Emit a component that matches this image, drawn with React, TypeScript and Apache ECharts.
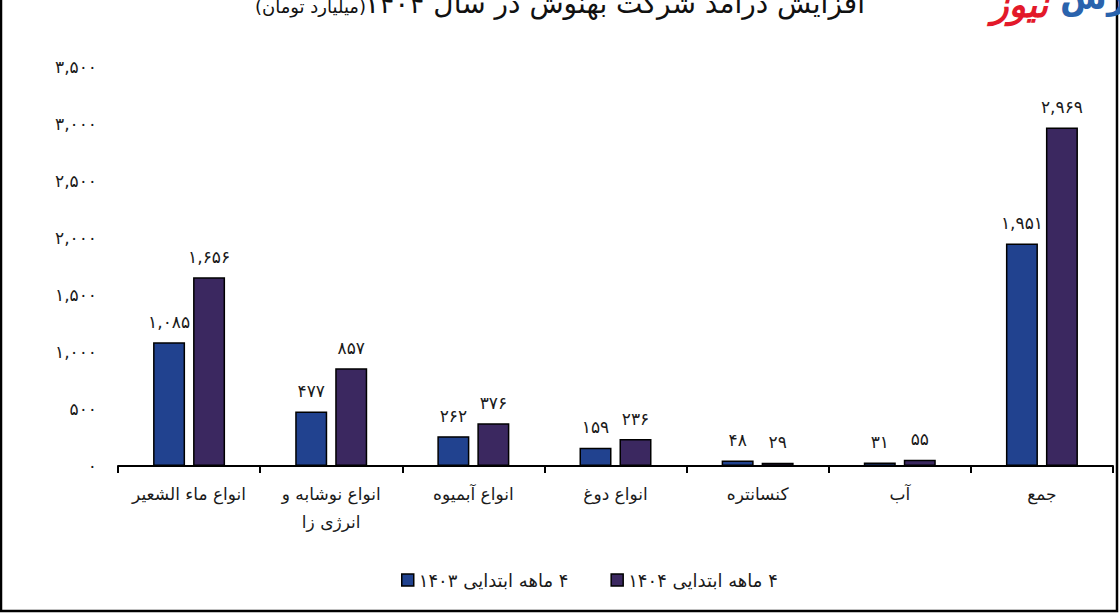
import React, { useEffect, useRef } from "react";
import * as echarts from "echarts";

const categories = [
  "انواع ماء الشعیر",
  "انواع نوشابه و\nانرژی زا",
  "انواع آبمیوه",
  "انواع دوغ",
  "کنسانتره",
  "آب",
  "جمع",
];
const series1403 = [1085, 477, 262, 159, 48, 31, 1951];
const series1404 = [1656, 857, 376, 236, 29, 55, 2969];
const seriesNames = ["\u200F۴ ماهه ابتدایی ۱۴۰۳", "\u200F۴ ماهه ابتدایی ۱۴۰۴"];
const titleMain = "افزایش درآمد شرکت بهنوش در سال ۱۴۰۴";
const titleUnit = "(میلیارد تومان)";

const FA = "۰۱۲۳۴۵۶۷۸۹";
function toFa(n: number): string {
  return Math.round(n)
    .toLocaleString("en-US")
    .replace(/[0-9]/g, (d) => FA[Number(d)]);
}

const FONT = "DejaVu Sans";

export default function App() {
  const ref = useRef<HTMLDivElement>(null);
  useEffect(() => {
    if (!ref.current) return;
    const chart = echarts.init(ref.current, null, { renderer: "svg" });
    const labelStyle = {
      show: true,
      position: "top" as const,
      distance: 12,
      fontSize: 17,
      color: "#1a1a1a",
      fontFamily: FONT,
      formatter: (p: any) => toFa(p.value),
    };
    chart.setOption({
      animation: false,
      backgroundColor: "#ffffff",
      textStyle: { fontFamily: FONT },
      grid: { left: 118, right: 7, top: 67, bottom: 148 },
      legend: {
        left: 396,
        top: 566,
        itemWidth: 12,
        itemHeight: 12,
        itemGap: 42,
        itemStyle: { borderColor: "#000", borderWidth: 1.5 },
        icon: "rect",
        textStyle: { fontSize: 18, color: "#1a1a1a", fontFamily: FONT },
        data: seriesNames,
      },
      xAxis: {
        type: "category",
        data: categories,
        axisLine: { lineStyle: { color: "#000", width: 2 } },
        axisTick: { show: true, length: 7, lineStyle: { color: "#000", width: 2 } },
        axisLabel: {
          margin: 14,
          fontSize: 17,
          lineHeight: 28,
          color: "#1a1a1a",
          fontFamily: FONT,
          interval: 0,
        },
      },
      yAxis: {
        type: "value",
        min: 0,
        max: 3500,
        interval: 500,
        axisLine: { show: false },
        axisTick: { show: false },
        splitLine: { show: false },
        axisLabel: {
          margin: 21,
          fontSize: 17,
          color: "#1a1a1a",
          fontFamily: FONT,
          formatter: (v: number) => toFa(v),
        },
      },
      series: [
        {
          name: seriesNames[0],
          type: "bar",
          data: series1403,
          barWidth: 32,
          barGap: "25%",
          itemStyle: { color: "#21428f", borderColor: "#000", borderWidth: 1.5 },
          label: labelStyle,
        },
        {
          name: seriesNames[1],
          type: "bar",
          data: series1404,
          barWidth: 32,
          barGap: "25%",
          itemStyle: { color: "#3b2860", borderColor: "#000", borderWidth: 1.5 },
          label: labelStyle,
        },
      ],
      graphic: [
        {
          type: "rect",
          shape: { x: 1, y: -20, width: 1116, height: 631 },
          style: { fill: "none", stroke: "#000", lineWidth: 2.5 },
          silent: true,
        },
        {
          type: "text",
          x: 865,
          y: 17,
          style: {
            text: titleMain,
            fontSize: 28,
            fontFamily: FONT,
            fill: "#111",
            textAlign: "right",
            textVerticalAlign: "bottom",
          },
        },
        {
          type: "text",
          x: 366,
          y: 15,
          style: {
            text: titleUnit,
            fontSize: 18,
            fontFamily: FONT,
            fill: "#111",
            textAlign: "right",
            textVerticalAlign: "bottom",
          },
        },
        {
          type: "text",
          x: 1048,
          y: 22,
          style: {
            text: "نیوز",
            fontSize: 36,
            fontWeight: "bold",
            fontStyle: "italic",
            fontFamily: FONT,
            fill: "#e3192a",
            textAlign: "right",
            textVerticalAlign: "bottom",
          },
        },
        {
          type: "text",
          x: 1060,
          y: 14,
          style: {
            text: "بورس",
            fontSize: 34,
            fontWeight: "bold",
            fontFamily: FONT,
            fill: "#2a63ad",
            textAlign: "left",
            textVerticalAlign: "bottom",
          },
        },
      ],
    });
    return () => chart.dispose();
  }, []);
  return (
    <div
      ref={ref}
      style={{ position: "fixed", left: 0, top: 0, width: 1120, height: 614 }}
    />
  );
}
